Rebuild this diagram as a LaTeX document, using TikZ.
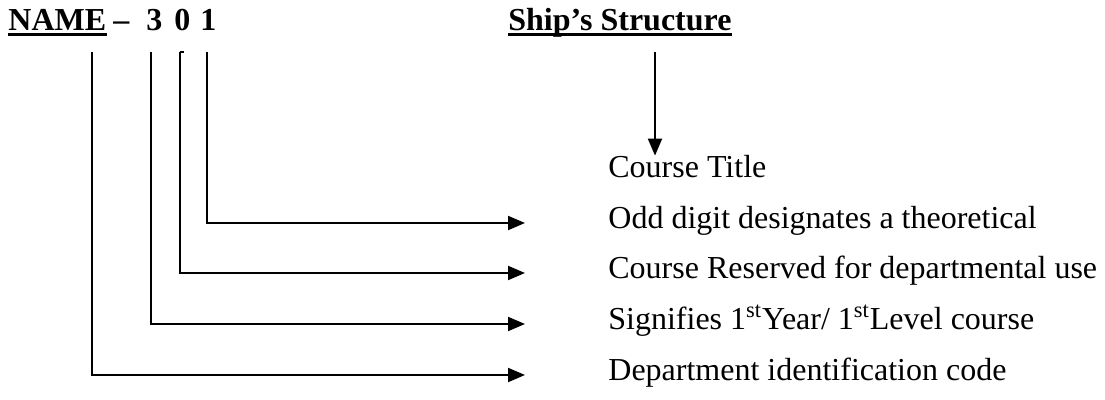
\documentclass[tikz,border=0pt]{standalone}
\usepackage{fontspec}
\setmainfont{Liberation Serif}
\usetikzlibrary{arrows.meta}

\begin{document}
\begin{tikzpicture}[x=0.5pt,y=-0.5pt]

        \tikzstyle{every node}=[inner sep=0pt, font=\fontsize{16}{19}\selectfont]
        \tikzstyle{title}=[anchor=base west, font=\fontsize{16}{19}\selectfont\bfseries]
        \tikzstyle{desc}=[anchor=west, text height=11pt, text depth=5pt]
        \tikzstyle{conn}=[line width=1pt, -{Triangle[length=8.5pt,width=7pt]}]
        \tikzstyle{uline}=[line width=1.5pt]

        \useasboundingbox (0,0) rectangle (1105,400);

        \node[title] (name) at (8,31) {NAME};
        \node[title] (dash) at (113,31) {–};
        \foreach \d / \x in {3/146,0/174,1/200} {
            \node[title] (d\d) at (\x,31) {\d};
        }
        \node[title] (ship) at (508,31) {Ship’s Structure};
        \draw[uline] ([yshift=-1.75pt]name.base west) -- ([yshift=-1.75pt]name.base east);
        \draw[uline] ([yshift=-1.75pt]ship.base west) -- ([yshift=-1.75pt]ship.base east);

        \node[desc] (ctitle) at (608,172) {Course Title};
        \coordinate (top-ship) at (655,52);
        \draw[conn] (top-ship) -- (top-ship |- ctitle.north);

        \foreach \x / \y / \n / \t in {207/223/odd/{Odd digit designates a theoretical},
                180/273/res/{Course Reserved for departmental use},
                151/324/sig/{Signifies 1\textsuperscript{st}Year/ 1\textsuperscript{st}Level course},
                92/375/dep/{Department identification code}} {
            \coordinate (top-\n) at (\x,52);
            \node[desc] (\n) at (608,\y) {\t};
            \draw[conn] (top-\n) |- ([xshift=-41.5pt]\n.west);
        }
        \draw[line width=1pt] (top-res) -- ++(4,0);

\end{tikzpicture}
\end{document}
